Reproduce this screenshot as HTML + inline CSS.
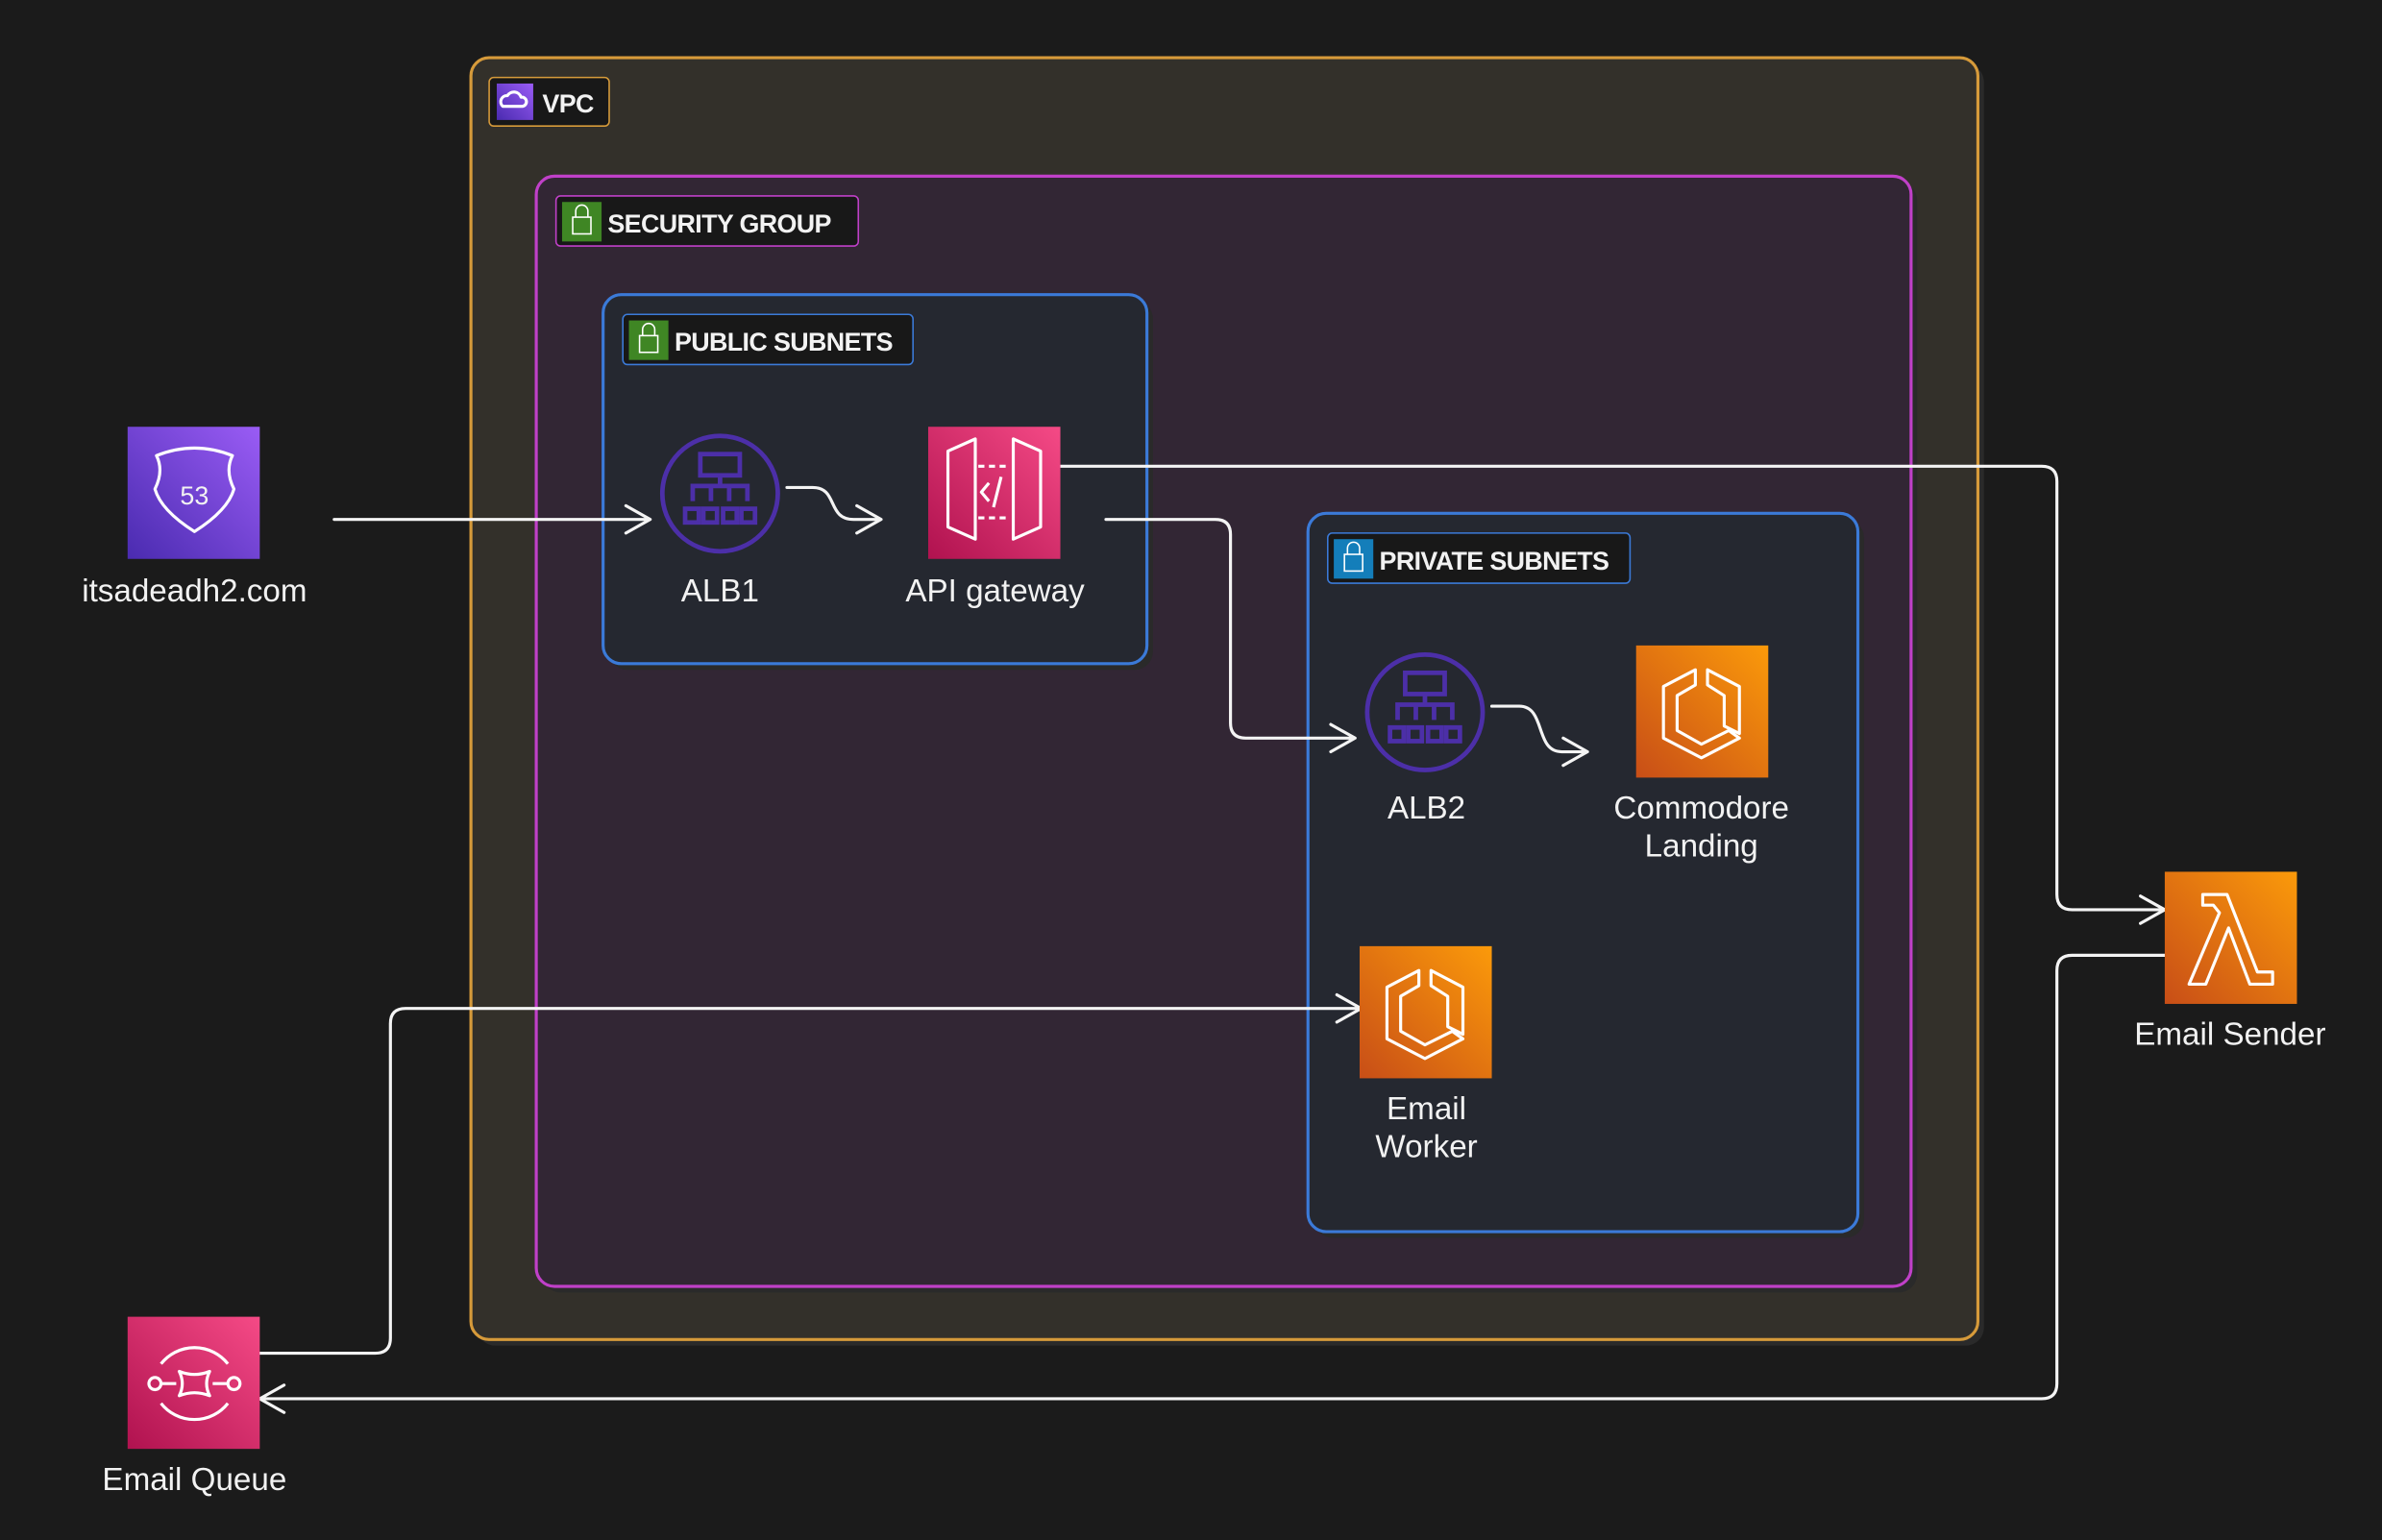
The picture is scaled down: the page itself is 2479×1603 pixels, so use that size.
<!DOCTYPE html>
<html><head><meta charset="utf-8"><style>
html,body{margin:0;padding:0;background:#1b1b1b;width:2479px;height:1603px;overflow:hidden}
svg{display:block}
text{font-family:"Liberation Sans",sans-serif;fill:#f2f2f2}
.lbl{font-size:21px;text-anchor:middle}
.grp{font-size:17px;font-weight:bold;letter-spacing:-0.4px}
.c{fill:none;stroke:#f4f4f4;stroke-width:2;stroke-linecap:round;stroke-linejoin:round}
.ic{fill:none;stroke:#fff;stroke-width:2;stroke-linejoin:round}
</style></head><body>
<svg width="2479" height="1603" viewBox="0 0 1568 1014" preserveAspectRatio="none">
<defs>
<linearGradient id="gp" x1="0" y1="1" x2="1" y2="0"><stop offset="0" stop-color="#4a2bb0"/><stop offset="1" stop-color="#9a5cf5"/></linearGradient>
<linearGradient id="gk" x1="0" y1="1" x2="1" y2="0"><stop offset="0" stop-color="#b0124f"/><stop offset="1" stop-color="#f54a86"/></linearGradient>
<linearGradient id="go" x1="0" y1="1" x2="1" y2="0"><stop offset="0" stop-color="#c84e17"/><stop offset="1" stop-color="#fb9a0a"/></linearGradient>
</defs>
<rect width="1568" height="1014" fill="#1b1b1b"/>
<!-- VPC -->
<rect x="314" y="42" width="992" height="844" rx="12" fill="#2a2a2a"/>
<rect x="310" y="38" width="992" height="844" rx="12" fill="#33302a" stroke="#d69a3a" stroke-width="2"/>
<rect x="322" y="51" width="79" height="32" rx="3" fill="#181818" stroke="#d69a3a" stroke-width="1"/>
<rect x="327" y="55" width="24" height="24" fill="url(#gp)"/>
<path class="ic" stroke-width="1.2" d="M331,70 a4,4 0 0 1 3,-7 a5,5 0 0 1 9,1 a3,3 0 0 1 1,6 z"/>
<text x="357" y="74" class="grp">VPC</text>
<!-- SG -->
<rect x="357" y="120" width="905" height="731" rx="12" fill="#2a2a2a"/>
<rect x="353" y="116" width="905" height="731" rx="12" fill="#322634" stroke="#c040c8" stroke-width="2"/>
<rect x="366" y="129" width="199" height="33" rx="3" fill="#181818" stroke="#c040c8" stroke-width="1"/>
<rect x="370" y="133" width="26" height="26" fill="#3f8624"/>
<rect x="377" y="143" width="12" height="11" fill="none" stroke="#fff" stroke-width="1"/><path d="M379,143 v-4 a4,4 0 0 1 8,0 v4" fill="none" stroke="#fff" stroke-width="1"/>
<text x="400" y="153" class="grp">SECURITY GROUP</text>
<!-- Public -->
<rect x="401" y="198" width="358" height="243" rx="12" fill="#2a2a2a"/>
<rect x="397" y="194" width="358" height="243" rx="12" fill="#252830" stroke="#3b7ad8" stroke-width="2"/>
<rect x="410" y="207" width="191" height="33" rx="3" fill="#181818" stroke="#3b7ad8" stroke-width="1"/>
<rect x="414" y="211" width="26" height="26" fill="#3f8624"/>
<rect x="421" y="221" width="12" height="11" fill="none" stroke="#fff" stroke-width="1"/><path d="M423,221 v-4 a4,4 0 0 1 8,0 v4" fill="none" stroke="#fff" stroke-width="1"/>
<text x="444" y="231" class="grp">PUBLIC SUBNETS</text>
<!-- Private -->
<rect x="865" y="342" width="362" height="473" rx="12" fill="#2a2a2a"/>
<rect x="861" y="338" width="362" height="473" rx="12" fill="#252830" stroke="#3b7ad8" stroke-width="2"/>
<rect x="874" y="351" width="199" height="33" rx="3" fill="#181818" stroke="#3b7ad8" stroke-width="1"/>
<rect x="878" y="355" width="26" height="26" fill="#147eba"/>
<rect x="885" y="365" width="12" height="11" fill="none" stroke="#fff" stroke-width="1"/><path d="M887,365 v-4 a4,4 0 0 1 8,0 v4" fill="none" stroke="#fff" stroke-width="1"/>
<text x="908" y="375" class="grp">PRIVATE SUBNETS</text>

<!-- connectors -->
<path class="c" d="M220,342 H428 M412,333 L428,342 L412,351"/>
<path class="c" d="M518,321 H535 C552,321 544,342 562,342 H580 M564,333 L580,342 L564,351"/>
<path class="c" d="M698,307 H1344 Q1354,307 1354,317 V589 Q1354,599 1364,599 H1425 M1409,590 L1425,599 L1409,608"/>
<path class="c" d="M728,342 H800 Q810,342 810,352 V476 Q810,486 820,486 H892 M876,477 L892,486 L876,495"/>
<path class="c" d="M982,465 H1000 C1018,465 1010,495 1028,495 H1045 M1029,486 L1045,495 L1029,504"/>
<path class="c" d="M171,891 H247 Q257,891 257,881 V674 Q257,664 267,664 H896 M880,655 L896,664 L880,673"/>
<path class="c" d="M1425,629 H1364 Q1354,629 1354,639 V911 Q1354,921 1344,921 H171 M187,912 L171,921 L187,930"/>

<!-- Route53 -->
<rect x="84" y="281" width="87" height="87" fill="url(#gp)"/>
<path class="ic" d="M103,300 Q128,290 153,300 Q148,310 154,322 Q150,336 128,350 Q106,336 102,322 Q108,310 103,300 z"/>
<text x="128" y="332" style="font-size:17px;text-anchor:middle">53</text>
<text x="128" y="396" class="lbl">itsadeadh2.com</text>
<!-- ALB1 -->
<g transform="translate(474,325)">
<circle r="38" fill="none" stroke="#4c2fa8" stroke-width="3"/>
<g fill="none" stroke="#4c2fa8" stroke-width="3"><rect x="-13" y="-26" width="26" height="14"/><path d="M0,-12 v7 M-18,5 v-10 h36 v10 M-6,5 v-10 M6,5 v-10"/><rect x="-23" y="10" width="9" height="9"/><rect x="-11" y="10" width="9" height="9"/><rect x="2" y="10" width="9" height="9"/><rect x="14" y="10" width="9" height="9"/></g>
</g>
<text x="474" y="396" class="lbl">ALB1</text>
<!-- API GW -->
<rect x="611" y="281" width="87" height="87" fill="url(#gk)"/>
<path class="ic" d="M624,297 L642,289 V355 L624,347 z M685,297 L667,289 V355 L685,347 z"/>
<path class="ic" stroke-dasharray="4,3" d="M644,307 H665 M644,341 H665"/>
<path class="ic" d="M651,318 L646,324 L651,330 M659,314 L654,334"/>
<text x="655" y="396" class="lbl">API gateway</text>
<!-- ALB2 -->
<g transform="translate(938,469)">
<circle r="38" fill="none" stroke="#4c2fa8" stroke-width="3"/>
<g fill="none" stroke="#4c2fa8" stroke-width="3"><rect x="-13" y="-26" width="26" height="14"/><path d="M0,-12 v7 M-18,5 v-10 h36 v10 M-6,5 v-10 M6,5 v-10"/><rect x="-23" y="10" width="9" height="9"/><rect x="-11" y="10" width="9" height="9"/><rect x="2" y="10" width="9" height="9"/><rect x="14" y="10" width="9" height="9"/></g>
</g>
<text x="939" y="539" class="lbl">ALB2</text>
<!-- ECS icons -->
<g id="ecs">
<rect x="1077" y="425" width="87" height="87" fill="url(#go)"/>
<path class="ic" stroke-width="2.2" d="M1116,441 L1095,452 V486 L1120,499 L1145,486 L1138,481 L1120,490 L1104,481 V458 L1116,451 z M1124,441 V451 L1135,458 V478 L1145,483 V452 z"/>
</g>
<text x="1120" y="539" class="lbl">Commodore</text>
<text x="1120" y="564" class="lbl">Landing</text>
<use href="#ecs" transform="translate(-182,198)"/>
<text x="939" y="737" class="lbl">Email</text>
<text x="939" y="762" class="lbl">Worker</text>
<!-- Lambda -->
<rect x="1425" y="574" width="87" height="87" fill="url(#go)"/>
<path class="ic" stroke-width="2.2" d="M1450,589 H1466 L1486,640 H1496 V648 H1481 L1467,611 L1452,648 H1441 L1461,601 L1457,596 H1450 z"/>
<text x="1468" y="688" class="lbl">Email Sender</text>
<!-- SQS -->
<rect x="84" y="867" width="87" height="87" fill="url(#gk)"/>
<path class="ic" d="M106,898 A28,28 0 0 1 150,898 M106,924 A28,28 0 0 0 150,924"/>
<circle cx="102" cy="911" r="4" class="ic"/><circle cx="154" cy="911" r="4" class="ic"/>
<path class="ic" d="M106,911 H116 M140,911 H150 M118,903 Q128,907 138,903 Q134,911 138,919 Q128,915 118,919 Q122,911 118,903 z"/>
<text x="128" y="981" class="lbl">Email Queue</text>
</svg>
</body></html>
